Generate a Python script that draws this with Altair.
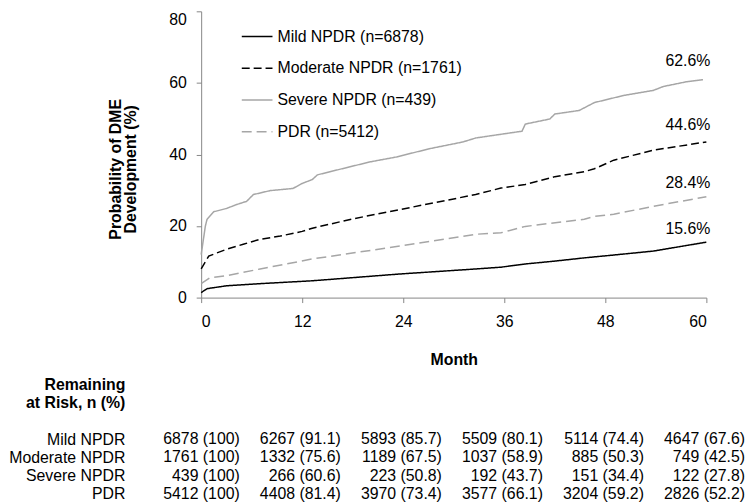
import altair as alt
import pandas as pd

FONT = "Liberation Sans"

series = ["Mild NPDR (n=6878)", "Moderate NPDR (n=1761)", "Severe NPDR (n=439)", "PDR (n=5412)"]
colors = ["#000000", "#000000", "#a6a6a6", "#a6a6a6"]
dashes = [[1, 0], [8, 4], [1, 0], [10, 5]]

mild_month = [0, 0.7, 3, 7, 13.2, 23.6, 32.6, 35.6, 38.5, 42, 45.5, 49, 53.7, 60]
mild_val = [1.4, 2.5, 3.3, 3.9, 4.7, 6.6, 8.0, 8.5, 9.4, 10.2, 11.1, 11.9, 13.0, 15.5]

mod_month = [0, 0.9, 3, 5, 7, 9.4, 12, 13.2, 18, 23.6, 32.6, 35.6, 38.5, 42, 45.5, 46.7, 49, 53.7, 60]
mod_val = [8.0, 11.6, 13.5, 14.9, 16.3, 17.2, 18.5, 19.4, 22.0, 24.6, 28.8, 30.6, 31.6, 33.8, 35.2, 36.0, 38.4, 41.2, 43.5]

sev_month = [0, 0.5, 0.7, 1.5, 3, 4.2, 5.4, 6.2, 8.2, 10.9, 12, 13.2, 13.8, 16.2, 20, 23.2, 27.1, 31.1,
             32.6, 34.9, 38.1, 38.5, 41.4, 42, 44.9, 46.7, 50.2, 53.7, 54.9, 57.6, 59.6]
sev_val = [12.0, 20.0, 21.9, 24.0, 24.9, 26.0, 26.9, 28.8, 29.9, 30.5, 31.9, 33.0, 34.3, 35.7, 37.9, 39.3, 41.6, 43.5,
           44.6, 45.4, 46.5, 48.5, 49.9, 51.3, 52.3, 54.5, 56.5, 57.9, 59.0, 60.3, 60.9]

pdr_month = [0, 1, 3, 7, 13.2, 23.6, 32.6, 35.6, 38.5, 45.5, 46.7, 49, 53.7, 60]
pdr_val = [3.9, 5.5, 6.1, 8.0, 10.8, 14.4, 17.7, 18.1, 19.9, 21.9, 22.7, 23.3, 25.5, 28.2]

end_labels = ["15.6%", "44.6%", "62.6%", "28.4%"]
end_values = [15.6, 44.6, 62.6, 28.4]

table_rows = ["Mild NPDR", "Moderate NPDR", "Severe NPDR", "PDR"]
table_months = [0, 12, 24, 36, 48, 60]
risk_n = [
    [6878, 6267, 5893, 5509, 5114, 4647],
    [1761, 1332, 1189, 1037, 885, 749],
    [439, 266, 223, 192, 151, 122],
    [5412, 4408, 3970, 3577, 3204, 2826],
]
risk_pct = [
    ["100", "91.1", "85.7", "80.1", "74.4", "67.6"],
    ["100", "75.6", "67.5", "58.9", "50.3", "42.5"],
    ["100", "60.6", "50.8", "43.7", "34.4", "27.8"],
    ["100", "81.4", "73.4", "66.1", "59.2", "52.2"],
]
header_lines = ["Remaining", "at Risk, n (%)"]

curves = []
for s, ms, vs in zip(series, [mild_month, mod_month, sev_month, pdr_month], [mild_val, mod_val, sev_val, pdr_val]):
    for m, v in zip(ms, vs):
        curves.append({"series": s, "month": m, "value": v})
curve_df = pd.DataFrame(curves)

label_df = pd.DataFrame({"series": series, "month": [60] * 4, "value": end_values, "label": end_labels})

rows = []
for r, ns, ps in zip(table_rows, risk_n, risk_pct):
    for m, n, p in zip(table_months, ns, ps):
        rows.append({"row": r, "month": m, "label": f"{n} ({p})"})
table_df = pd.DataFrame(rows)
row_domain = header_lines + [" "] + table_rows

W = 510
xscale = alt.Scale(domain=[0, 60], nice=False, zero=False)

legend = alt.Legend(
    orient="none", legendX=40, legendY=9, title=None, symbolType="stroke", symbolSize=961,
    symbolStrokeWidth=1.5, labelFontSize=16, labelFont=FONT, labelColor="black", labelLimit=400,
    rowPadding=7, labelOffset=4, padding=0,
)

lines = alt.Chart(curve_df).mark_line(strokeWidth=1.5).encode(
    x=alt.X("month:Q", scale=xscale,
            axis=alt.Axis(values=table_months, title="Month", tickSize=5, labelPadding=11,
                          titlePadding=23, grid=False)),
    y=alt.Y("value:Q", scale=alt.Scale(domain=[0, 80], nice=False),
            axis=alt.Axis(values=[0, 20, 40, 60, 80], title=["Probability of DME", "Development (%)"],
                          tickSize=5, labelPadding=10, titlePadding=30, grid=False, titleLineHeight=16,
                          titleY=159,
                          labelBaseline={"condition": {"test": "datum.value == 80", "value": "top"},
                                         "value": "middle"})),
    color=alt.Color("series:N", scale=alt.Scale(domain=series, range=colors), legend=legend),
    strokeDash=alt.StrokeDash("series:N", scale=alt.Scale(domain=series, range=dashes), legend=legend),
)

labels = alt.Chart(label_df).mark_text(align="right", baseline="middle", dx=4, dy=-13,
                                        fontSize=16, font=FONT, color="black").encode(
    x=alt.X("month:Q", scale=xscale),
    y=alt.Y("value:Q"),
    text="label:N",
)

main = alt.layer(lines, labels).properties(width=W, height=289)

table = alt.Chart(table_df).mark_text(align="right", baseline="middle", dx=39, fontSize=16,
                                       font=FONT, color="black").encode(
    x=alt.X("month:Q", scale=xscale, axis=None),
    y=alt.Y("row:N", scale=alt.Scale(domain=row_domain, type="point", padding=0),
            axis=alt.Axis(title=None, domain=False, ticks=False, labelPadding=77, labelFontSize=16,
                          labelFont=FONT, labelColor="black", labelAlign="right", labelLimit=300,
                          labelFontWeight=alt.expr("datum.value == 'Remaining' || datum.value == 'at Risk, n (%)' ? 'bold' : 'normal'"))),
    text="label:N",
).properties(width=W, height=110)

chart = alt.vconcat(main, table, spacing=9).properties(
    padding={"left": 0, "top": 0, "right": 0, "bottom": 0}
).configure_view(stroke=None).configure_axis(
    labelFont=FONT, titleFont=FONT, labelFontSize=16, titleFontSize=16, labelColor="black",
    titleColor="black", domainColor="#868686", tickColor="#868686", titleFontWeight="bold",
).configure_concat(spacing=9)

chart.save("out.html", embed_options={"renderer": "svg", "actions": False})
